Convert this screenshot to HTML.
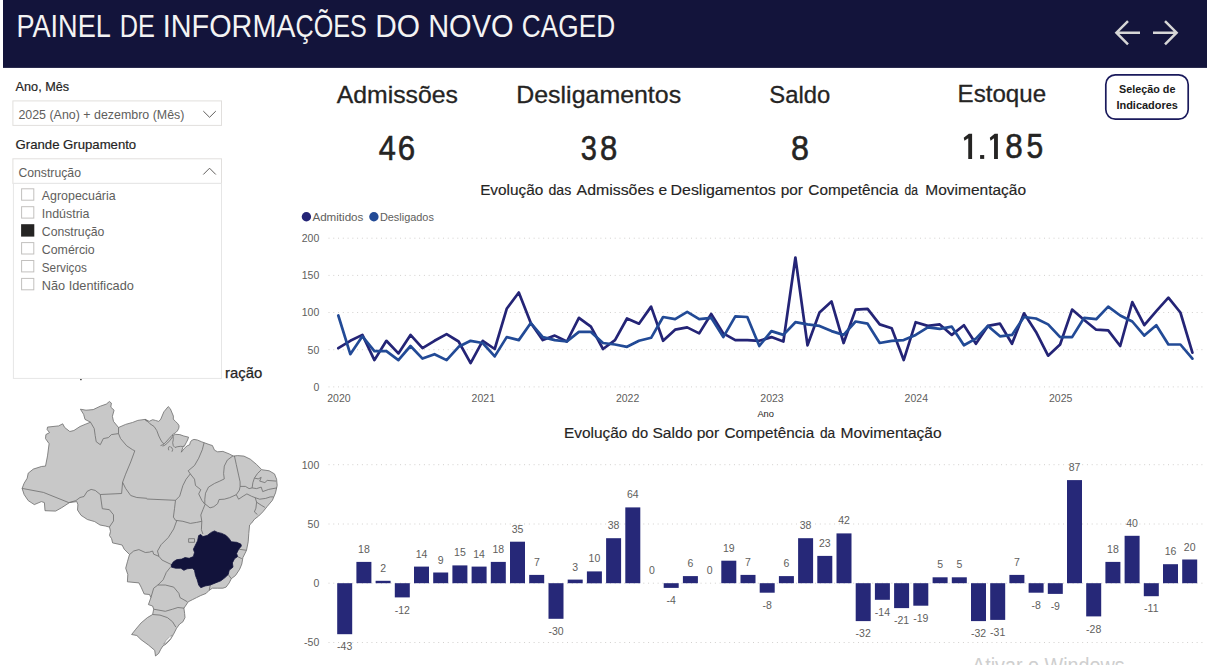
<!DOCTYPE html>
<html lang="pt-BR"><head><meta charset="utf-8"><title>Painel de Informações do Novo CAGED</title>
<style>
html,body{margin:0;padding:0;background:#fff;}
body{width:1207px;height:665px;overflow:hidden;font-family:"Liberation Sans",sans-serif;}
svg{display:block;font-family:"Liberation Sans",sans-serif;}
</style></head><body>
<svg width="1207" height="665" viewBox="0 0 1207 665">
<rect x="3" y="0" width="1204" height="67.9" fill="#13143b"/>
<text transform="matrix(0.8695 0 0 1.0000 16.43 37.20)" font-size="31.2" fill="#f3f3f3">PAINEL</text>
<text transform="matrix(0.8101 0 0 1.0000 119.67 37.20)" font-size="31.2" fill="#f3f3f3">DE</text>
<text transform="matrix(0.9229 0 0 1.0000 162.83 37.20)" font-size="31.2" fill="#f3f3f3">INFORMA</text>
<text transform="matrix(0.8070 0 0 1.0000 295.59 37.20)" font-size="31.2" fill="#f3f3f3">ÇÕES</text>
<text transform="matrix(0.9591 0 0 1.0000 375.20 37.20)" font-size="31.2" fill="#f3f3f3">DO</text>
<text transform="matrix(0.9299 0 0 1.0000 428.18 37.20)" font-size="31.2" fill="#f3f3f3">NOVO</text>
<text transform="matrix(0.8426 0 0 1.0000 521.84 37.20)" font-size="31.2" fill="#f3f3f3">CAGED</text>
<g fill="none" stroke="#d6d6d6" stroke-width="2.5" stroke-linecap="butt" stroke-linejoin="miter"><path d="M1140,32.7 H1116.4 M1128,21.1 L1116.4,32.7 L1128,44.3"/><path d="M1153,32.7 H1176.6 M1165,21.1 L1176.6,32.7 L1165,44.3"/></g>
<rect x="1105.8" y="74.9" width="82.4" height="44.2" rx="9.5" ry="9.5" fill="#fff" stroke="#1a1a5c" stroke-width="1.7"/>
<text x="1147.2" y="93" font-size="10.5" fill="#1a1a1a" text-anchor="middle" font-weight="700" textLength="56.4" lengthAdjust="spacingAndGlyphs">Seleção de</text>
<text x="1147.2" y="108.5" font-size="10.5" fill="#1a1a1a" text-anchor="middle" font-weight="700" textLength="61.5" lengthAdjust="spacingAndGlyphs">Indicadores</text>
<text transform="matrix(1.0456 0 0 1.0000 336.80 102.70)" font-size="23.7" fill="#252423" stroke="#252423" stroke-width="0.3">Admissões</text>
<text transform="matrix(0.8767 0 0 1.0020 378.66 159.60)" font-size="35" fill="#252423" stroke="#252423" stroke-width="0.6">4</text>
<text transform="matrix(0.8955 0 0 1.0020 397.86 159.60)" font-size="35" fill="#252423" stroke="#252423" stroke-width="0.6">6</text>
<text transform="matrix(1.0522 0 0 1.0000 516.26 102.70)" font-size="23.7" fill="#252423" stroke="#252423" stroke-width="0.3">Desligamentos</text>
<text transform="matrix(0.8290 0 0 1.0020 580.87 159.60)" font-size="35" fill="#252423" stroke="#252423" stroke-width="0.6">3</text>
<text transform="matrix(0.8882 0 0 1.0020 599.89 159.60)" font-size="35" fill="#252423" stroke="#252423" stroke-width="0.6">8</text>
<text transform="matrix(1.0060 0 0 1.0000 769.29 102.70)" font-size="23.7" fill="#252423" stroke="#252423" stroke-width="0.3">Saldo</text>
<text transform="matrix(0.9235 0 0 1.0020 791.05 159.60)" font-size="35" fill="#252423" stroke="#252423" stroke-width="0.6">8</text>
<text transform="matrix(1.0172 0 0 1.0000 957.62 101.70)" font-size="23.7" fill="#252423" stroke="#252423" stroke-width="0.3">Estoque</text>
<path d="M968.85,133.80 L972.10,133.80 L972.10,158.90 L968.25,158.90 L968.25,138.20 L964.45,140.65 L963.70,137.70Z" fill="#252423"/>
<rect x="980.1" y="155.05" width="4.10" height="3.85" fill="#252423"/>
<path d="M994.65,133.80 L997.90,133.80 L997.90,158.90 L994.05,158.90 L994.05,138.20 L990.55,140.65 L989.80,137.70Z" fill="#252423"/>
<text transform="matrix(0.9000 0 0 0.9941 1005.17 158.40)" font-size="35" fill="#252423" stroke="#252423" stroke-width="0.6">8</text>
<text transform="matrix(0.8580 0 0 0.9941 1026.44 158.40)" font-size="35" fill="#252423" stroke="#252423" stroke-width="0.6">5</text>
<text x="15.6" y="91.2" font-size="12.2" fill="#252423" textLength="53.5" lengthAdjust="spacingAndGlyphs" stroke="#252423" stroke-width="0.18">Ano, Mês</text>
<rect x="12.9" y="100.9" width="208.6" height="24.5" fill="#fff" stroke="#e1dfdd" stroke-width="1"/>
<text x="18.4" y="118.8" font-size="12.3" fill="#605e5c" textLength="166" lengthAdjust="spacingAndGlyphs">2025 (Ano) + dezembro (Mês)</text>
<path d="M203.3,111.1 L209.55,117.3 L215.8,111.1" fill="none" stroke="#605e5c" stroke-width="1"/>
<text x="15.6" y="148.6" font-size="12.2" fill="#252423" textLength="120.6" lengthAdjust="spacingAndGlyphs" stroke="#252423" stroke-width="0.18">Grande Grupamento</text>
<text x="225" y="377.8" font-size="15" fill="#252423" textLength="37.2" lengthAdjust="spacingAndGlyphs" stroke="#252423" stroke-width="0.25">ração</text>
<rect x="80.2" y="378.6" width="1.4" height="1.6" fill="#252423"/>
<rect x="12.9" y="158.8" width="208.6" height="24.6" fill="#fff" stroke="#e1dfdd" stroke-width="1"/>
<rect x="13.4" y="183.4" width="208.1" height="195" fill="#fff" stroke="#e6e6e6" stroke-width="1"/>
<text x="18.4" y="176.7" font-size="12.3" fill="#605e5c" textLength="62.6" lengthAdjust="spacingAndGlyphs">Construção</text>
<path d="M203.3,174.5 L209.55,168.2 L215.8,174.5" fill="none" stroke="#605e5c" stroke-width="1"/>
<rect x="21.6" y="188.8" width="12.2" height="11.4" fill="#fff" stroke="#c2c0be" stroke-width="1"/>
<text x="41.8" y="200.3" font-size="13" fill="#605e5c" textLength="73.8" lengthAdjust="spacingAndGlyphs">Agropecuária</text>
<rect x="21.6" y="206.7" width="12.2" height="11.4" fill="#fff" stroke="#c2c0be" stroke-width="1"/>
<text x="41.8" y="218.2" font-size="13" fill="#605e5c" textLength="47.7" lengthAdjust="spacingAndGlyphs">Indústria</text>
<rect x="21.1" y="224.2" width="13.2" height="12.4" fill="#252423"/>
<text x="41.8" y="236.2" font-size="13" fill="#605e5c" textLength="62.6" lengthAdjust="spacingAndGlyphs">Construção</text>
<rect x="21.6" y="242.6" width="12.2" height="11.4" fill="#fff" stroke="#c2c0be" stroke-width="1"/>
<text x="41.8" y="254.1" font-size="13" fill="#605e5c" textLength="52.9" lengthAdjust="spacingAndGlyphs">Comércio</text>
<rect x="21.6" y="260.5" width="12.2" height="11.4" fill="#fff" stroke="#c2c0be" stroke-width="1"/>
<text x="41.8" y="272.0" font-size="13" fill="#605e5c" textLength="45" lengthAdjust="spacingAndGlyphs">Serviços</text>
<rect x="21.6" y="278.4" width="12.2" height="11.4" fill="#fff" stroke="#c2c0be" stroke-width="1"/>
<text x="41.8" y="290.0" font-size="13" fill="#605e5c" textLength="92" lengthAdjust="spacingAndGlyphs">Não Identificado</text>
<text transform="matrix(1.0174 0 0 1.0000 480.13 195.00)" font-size="15.1" fill="#252423" stroke="#252423" stroke-width="0.15">Evolução</text>
<text transform="matrix(0.9362 0 0 1.0000 548.43 195.00)" font-size="15.1" fill="#252423" stroke="#252423" stroke-width="0.15">das</text>
<text transform="matrix(1.0512 0 0 1.0000 576.60 195.00)" font-size="15.1" fill="#252423" stroke="#252423" stroke-width="0.15">Admissões</text>
<text transform="matrix(1.0345 0 0 1.0000 658.58 195.00)" font-size="15.1" fill="#252423" stroke="#252423" stroke-width="0.15">e</text>
<text transform="matrix(1.0545 0 0 1.0000 670.58 195.00)" font-size="15.1" fill="#252423" stroke="#252423" stroke-width="0.15">Desligamentos</text>
<text transform="matrix(1.0217 0 0 1.0000 780.68 195.00)" font-size="15.1" fill="#252423" stroke="#252423" stroke-width="0.15">por</text>
<text transform="matrix(1.0142 0 0 1.0000 808.34 195.00)" font-size="15.1" fill="#252423" stroke="#252423" stroke-width="0.15">Competência</text>
<text transform="matrix(0.8000 0 0 1.0000 904.50 195.00)" font-size="15.1" fill="#252423" stroke="#252423" stroke-width="0.15">da</text>
<text transform="matrix(1.0265 0 0 1.0000 925.32 195.00)" font-size="15.1" fill="#252423" stroke="#252423" stroke-width="0.15">Movimentação</text>
<circle cx="306.4" cy="216.8" r="4.7" fill="#242476"/>
<text x="312.4" y="221" font-size="11.5" fill="#605e5c" textLength="51" lengthAdjust="spacingAndGlyphs">Admitidos</text>
<circle cx="373.9" cy="216.8" r="4.7" fill="#224a96"/>
<text x="379.9" y="221" font-size="11.5" fill="#605e5c" textLength="54" lengthAdjust="spacingAndGlyphs">Desligados</text>
<line x1="328.5" y1="386.9" x2="1203" y2="386.9" stroke="#d2d0ce" stroke-width="1" stroke-dasharray="1 3.77"/>
<text x="319.3" y="390.7" font-size="10.5" fill="#605e5c" text-anchor="end">0</text>
<line x1="328.5" y1="349.7" x2="1203" y2="349.7" stroke="#d2d0ce" stroke-width="1" stroke-dasharray="1 3.77"/>
<text x="319.3" y="353.5" font-size="10.5" fill="#605e5c" text-anchor="end">50</text>
<line x1="328.5" y1="312.5" x2="1203" y2="312.5" stroke="#d2d0ce" stroke-width="1" stroke-dasharray="1 3.77"/>
<text x="319.3" y="316.3" font-size="10.5" fill="#605e5c" text-anchor="end">100</text>
<line x1="328.5" y1="275.4" x2="1203" y2="275.4" stroke="#d2d0ce" stroke-width="1" stroke-dasharray="1 3.77"/>
<text x="319.3" y="279.2" font-size="10.5" fill="#605e5c" text-anchor="end">150</text>
<line x1="328.5" y1="238.2" x2="1203" y2="238.2" stroke="#d2d0ce" stroke-width="1" stroke-dasharray="1 3.77"/>
<text x="319.3" y="242.0" font-size="10.5" fill="#605e5c" text-anchor="end">200</text>
<text x="338.9" y="401.8" font-size="10.5" fill="#605e5c" text-anchor="middle">2020</text>
<text x="483.3" y="401.8" font-size="10.5" fill="#605e5c" text-anchor="middle">2021</text>
<text x="627.6" y="401.8" font-size="10.5" fill="#605e5c" text-anchor="middle">2022</text>
<text x="772.0" y="401.8" font-size="10.5" fill="#605e5c" text-anchor="middle">2023</text>
<text x="916.3" y="401.8" font-size="10.5" fill="#605e5c" text-anchor="middle">2024</text>
<text x="1060.7" y="401.8" font-size="10.5" fill="#605e5c" text-anchor="middle">2025</text>
<text x="765.7" y="416.6" font-size="9.3" fill="#252423" text-anchor="middle">Ano</text>
<polyline points="338.3,348.2 350.3,340.8 362.4,334.9 374.4,360.1 386.4,340.8 398.4,353.4 410.5,334.9 422.5,348.2 434.5,340.8 446.6,334.1 458.6,341.5 470.6,363.1 482.7,340.8 494.7,349.0 506.7,308.8 518.8,292.5 530.8,323.0 542.8,340.1 554.8,335.6 566.9,341.5 578.9,317.8 590.9,326.7 603.0,349.0 615.0,340.1 627.0,318.5 639.0,323.7 651.1,306.6 663.1,340.8 675.1,329.7 687.2,327.4 699.2,333.4 711.2,314.0 723.3,333.4 735.3,340.1 747.3,340.1 759.3,340.8 771.4,337.1 783.4,341.5 795.4,257.5 807.5,345.3 819.5,312.5 831.5,301.4 843.6,343.0 855.6,309.6 867.6,308.8 879.7,324.4 891.7,328.2 903.7,360.1 915.7,322.2 927.8,325.9 939.8,324.4 951.8,334.9 963.9,325.2 975.9,343.8 987.9,325.9 1000.0,323.7 1012.0,343.8 1024.0,313.3 1036.0,331.9 1048.1,355.7 1060.1,344.5 1072.1,309.6 1084.2,320.0 1096.2,329.7 1108.2,330.4 1120.2,346.0 1132.3,302.1 1144.3,325.2 1156.3,311.1 1168.4,297.7 1180.4,312.5 1192.4,352.7" fill="none" stroke="#242476" stroke-width="2.7" stroke-linejoin="round" stroke-linecap="round"/>
<polyline points="338.3,315.5 350.3,354.2 362.4,336.3 374.4,351.2 386.4,351.2 398.4,360.1 410.5,346.0 422.5,358.6 434.5,354.2 446.6,360.1 458.6,346.8 470.6,340.8 482.7,343.0 494.7,356.4 506.7,337.1 518.8,340.1 530.8,323.0 542.8,337.1 554.8,340.1 566.9,341.5 578.9,331.9 590.9,331.9 603.0,343.0 615.0,344.5 627.0,346.8 639.0,340.8 651.1,337.8 663.1,317.0 675.1,319.2 687.2,311.8 699.2,319.2 711.2,317.8 723.3,337.1 735.3,316.3 747.3,317.0 759.3,346.0 771.4,331.1 783.4,334.9 795.4,322.2 807.5,324.4 819.5,325.9 831.5,331.1 843.6,334.9 855.6,321.5 867.6,323.7 879.7,343.0 891.7,340.8 903.7,340.1 915.7,334.9 927.8,327.4 939.8,328.9 951.8,326.7 963.9,345.3 975.9,338.6 987.9,325.9 1000.0,336.3 1012.0,334.9 1024.0,317.0 1036.0,318.5 1048.1,324.4 1060.1,337.1 1072.1,337.1 1084.2,317.8 1096.2,319.2 1108.2,306.6 1120.2,315.5 1132.3,321.5 1144.3,335.6 1156.3,325.2 1168.4,344.5 1180.4,344.5 1192.4,358.6" fill="none" stroke="#224a96" stroke-width="2.7" stroke-linejoin="round" stroke-linecap="round"/>
<text transform="matrix(1.0224 0 0 1.0000 563.92 438.00)" font-size="15.1" fill="#252423" stroke="#252423" stroke-width="0.15">Evolução</text>
<text transform="matrix(0.9714 0 0 1.0000 631.81 438.00)" font-size="15.1" fill="#252423" stroke="#252423" stroke-width="0.15">do</text>
<text transform="matrix(1.0336 0 0 1.0000 652.42 438.00)" font-size="15.1" fill="#252423" stroke="#252423" stroke-width="0.15">Saldo</text>
<text transform="matrix(1.0361 0 0 1.0000 696.66 438.00)" font-size="15.1" fill="#252423" stroke="#252423" stroke-width="0.15">por</text>
<text transform="matrix(1.0096 0 0 1.0000 724.44 438.00)" font-size="15.1" fill="#252423" stroke="#252423" stroke-width="0.15">Competência</text>
<text transform="matrix(0.9108 0 0 1.0000 819.94 438.00)" font-size="15.1" fill="#252423" stroke="#252423" stroke-width="0.15">da</text>
<text transform="matrix(1.0327 0 0 1.0000 840.41 438.00)" font-size="15.1" fill="#252423" stroke="#252423" stroke-width="0.15">Movimentação</text>
<line x1="328.5" y1="642.5" x2="1203" y2="642.5" stroke="#d2d0ce" stroke-width="1" stroke-dasharray="1 3.77"/>
<text x="319.3" y="646.2" font-size="10.5" fill="#605e5c" text-anchor="end">-50</text>
<line x1="328.5" y1="583.2" x2="1203" y2="583.2" stroke="#d2d0ce" stroke-width="1" stroke-dasharray="1 3.77"/>
<text x="319.3" y="587.0" font-size="10.5" fill="#605e5c" text-anchor="end">0</text>
<line x1="328.5" y1="524.0" x2="1203" y2="524.0" stroke="#d2d0ce" stroke-width="1" stroke-dasharray="1 3.77"/>
<text x="319.3" y="527.8" font-size="10.5" fill="#605e5c" text-anchor="end">50</text>
<line x1="328.5" y1="464.7" x2="1203" y2="464.7" stroke="#d2d0ce" stroke-width="1" stroke-dasharray="1 3.77"/>
<text x="319.3" y="468.5" font-size="10.5" fill="#605e5c" text-anchor="end">100</text>
<rect x="337.2" y="583.2" width="15" height="51.0" fill="#262878"/>
<text x="344.7" y="650.4" font-size="10.5" fill="#605e5c" text-anchor="middle">-43</text>
<rect x="356.4" y="561.9" width="15" height="21.3" fill="#262878"/>
<text x="363.9" y="552.9" font-size="10.5" fill="#605e5c" text-anchor="middle">18</text>
<rect x="375.6" y="580.8" width="15" height="2.4" fill="#262878"/>
<text x="383.1" y="571.8" font-size="10.5" fill="#605e5c" text-anchor="middle">2</text>
<rect x="394.8" y="583.2" width="15" height="14.2" fill="#262878"/>
<text x="402.3" y="613.6" font-size="10.5" fill="#605e5c" text-anchor="middle">-12</text>
<rect x="414.0" y="566.6" width="15" height="16.6" fill="#262878"/>
<text x="421.5" y="557.6" font-size="10.5" fill="#605e5c" text-anchor="middle">14</text>
<rect x="433.2" y="572.5" width="15" height="10.7" fill="#262878"/>
<text x="440.7" y="563.5" font-size="10.5" fill="#605e5c" text-anchor="middle">9</text>
<rect x="452.4" y="565.4" width="15" height="17.8" fill="#262878"/>
<text x="459.9" y="556.4" font-size="10.5" fill="#605e5c" text-anchor="middle">15</text>
<rect x="471.6" y="566.6" width="15" height="16.6" fill="#262878"/>
<text x="479.1" y="557.6" font-size="10.5" fill="#605e5c" text-anchor="middle">14</text>
<rect x="490.8" y="561.9" width="15" height="21.3" fill="#262878"/>
<text x="498.3" y="552.9" font-size="10.5" fill="#605e5c" text-anchor="middle">18</text>
<rect x="510.0" y="541.7" width="15" height="41.5" fill="#262878"/>
<text x="517.5" y="532.7" font-size="10.5" fill="#605e5c" text-anchor="middle">35</text>
<rect x="529.2" y="574.9" width="15" height="8.3" fill="#262878"/>
<text x="536.8" y="565.9" font-size="10.5" fill="#605e5c" text-anchor="middle">7</text>
<rect x="548.5" y="583.2" width="15" height="35.6" fill="#262878"/>
<text x="556.0" y="635.0" font-size="10.5" fill="#605e5c" text-anchor="middle">-30</text>
<rect x="567.7" y="579.6" width="15" height="3.6" fill="#262878"/>
<text x="575.2" y="570.6" font-size="10.5" fill="#605e5c" text-anchor="middle">3</text>
<rect x="586.9" y="571.4" width="15" height="11.9" fill="#262878"/>
<text x="594.4" y="562.4" font-size="10.5" fill="#605e5c" text-anchor="middle">10</text>
<rect x="606.1" y="538.2" width="15" height="45.0" fill="#262878"/>
<text x="613.6" y="529.2" font-size="10.5" fill="#605e5c" text-anchor="middle">38</text>
<rect x="625.3" y="507.4" width="15" height="75.8" fill="#262878"/>
<text x="632.8" y="498.4" font-size="10.5" fill="#605e5c" text-anchor="middle">64</text>
<text x="652.0" y="574.2" font-size="10.5" fill="#605e5c" text-anchor="middle">0</text>
<rect x="663.7" y="583.2" width="15" height="4.7" fill="#262878"/>
<text x="671.2" y="604.1" font-size="10.5" fill="#605e5c" text-anchor="middle">-4</text>
<rect x="682.9" y="576.1" width="15" height="7.1" fill="#262878"/>
<text x="690.4" y="567.1" font-size="10.5" fill="#605e5c" text-anchor="middle">6</text>
<text x="709.6" y="574.2" font-size="10.5" fill="#605e5c" text-anchor="middle">0</text>
<rect x="721.3" y="560.7" width="15" height="22.5" fill="#262878"/>
<text x="728.8" y="551.7" font-size="10.5" fill="#605e5c" text-anchor="middle">19</text>
<rect x="740.5" y="574.9" width="15" height="8.3" fill="#262878"/>
<text x="748.0" y="565.9" font-size="10.5" fill="#605e5c" text-anchor="middle">7</text>
<rect x="759.7" y="583.2" width="15" height="9.5" fill="#262878"/>
<text x="767.2" y="608.9" font-size="10.5" fill="#605e5c" text-anchor="middle">-8</text>
<rect x="778.9" y="576.1" width="15" height="7.1" fill="#262878"/>
<text x="786.4" y="567.1" font-size="10.5" fill="#605e5c" text-anchor="middle">6</text>
<rect x="798.1" y="538.2" width="15" height="45.0" fill="#262878"/>
<text x="805.6" y="529.2" font-size="10.5" fill="#605e5c" text-anchor="middle">38</text>
<rect x="817.3" y="555.9" width="15" height="27.3" fill="#262878"/>
<text x="824.8" y="546.9" font-size="10.5" fill="#605e5c" text-anchor="middle">23</text>
<rect x="836.5" y="533.4" width="15" height="49.8" fill="#262878"/>
<text x="844.0" y="524.4" font-size="10.5" fill="#605e5c" text-anchor="middle">42</text>
<rect x="855.7" y="583.2" width="15" height="37.9" fill="#262878"/>
<text x="863.2" y="637.3" font-size="10.5" fill="#605e5c" text-anchor="middle">-32</text>
<rect x="874.9" y="583.2" width="15" height="16.6" fill="#262878"/>
<text x="882.4" y="616.0" font-size="10.5" fill="#605e5c" text-anchor="middle">-14</text>
<rect x="894.1" y="583.2" width="15" height="24.9" fill="#262878"/>
<text x="901.6" y="624.3" font-size="10.5" fill="#605e5c" text-anchor="middle">-21</text>
<rect x="913.3" y="583.2" width="15" height="22.5" fill="#262878"/>
<text x="920.8" y="621.9" font-size="10.5" fill="#605e5c" text-anchor="middle">-19</text>
<rect x="932.6" y="577.3" width="15" height="5.9" fill="#262878"/>
<text x="940.1" y="568.3" font-size="10.5" fill="#605e5c" text-anchor="middle">5</text>
<rect x="951.8" y="577.3" width="15" height="5.9" fill="#262878"/>
<text x="959.3" y="568.3" font-size="10.5" fill="#605e5c" text-anchor="middle">5</text>
<rect x="971.0" y="583.2" width="15" height="37.9" fill="#262878"/>
<text x="978.5" y="637.3" font-size="10.5" fill="#605e5c" text-anchor="middle">-32</text>
<rect x="990.2" y="583.2" width="15" height="36.7" fill="#262878"/>
<text x="997.7" y="636.1" font-size="10.5" fill="#605e5c" text-anchor="middle">-31</text>
<rect x="1009.4" y="574.9" width="15" height="8.3" fill="#262878"/>
<text x="1016.9" y="565.9" font-size="10.5" fill="#605e5c" text-anchor="middle">7</text>
<rect x="1028.6" y="583.2" width="15" height="9.5" fill="#262878"/>
<text x="1036.1" y="608.9" font-size="10.5" fill="#605e5c" text-anchor="middle">-8</text>
<rect x="1047.8" y="583.2" width="15" height="10.7" fill="#262878"/>
<text x="1055.3" y="610.1" font-size="10.5" fill="#605e5c" text-anchor="middle">-9</text>
<rect x="1067.0" y="480.1" width="15" height="103.1" fill="#262878"/>
<text x="1074.5" y="471.1" font-size="10.5" fill="#605e5c" text-anchor="middle">87</text>
<rect x="1086.2" y="583.2" width="15" height="33.2" fill="#262878"/>
<text x="1093.7" y="632.6" font-size="10.5" fill="#605e5c" text-anchor="middle">-28</text>
<rect x="1105.4" y="561.9" width="15" height="21.3" fill="#262878"/>
<text x="1112.9" y="552.9" font-size="10.5" fill="#605e5c" text-anchor="middle">18</text>
<rect x="1124.6" y="535.8" width="15" height="47.4" fill="#262878"/>
<text x="1132.1" y="526.8" font-size="10.5" fill="#605e5c" text-anchor="middle">40</text>
<rect x="1143.8" y="583.2" width="15" height="13.0" fill="#262878"/>
<text x="1151.3" y="612.4" font-size="10.5" fill="#605e5c" text-anchor="middle">-11</text>
<rect x="1163.0" y="564.2" width="15" height="19.0" fill="#262878"/>
<text x="1170.5" y="555.2" font-size="10.5" fill="#605e5c" text-anchor="middle">16</text>
<rect x="1182.2" y="559.5" width="15" height="23.7" fill="#262878"/>
<text x="1189.7" y="550.5" font-size="10.5" fill="#605e5c" text-anchor="middle">20</text>
<path d="M22.1,488.4 L24.1,483.3 L27.2,478.2 L28.2,473.2 L33.3,469.1 L41.4,466.5 L45.5,466.1 L47.5,455.9 L49.1,443.7 L45.5,438.6 L45.9,434.6 L49.5,432.6 L47.1,429.5 L47.5,427.1 L58.6,425.9 L62.7,423.8 L64.7,427.5 L69.8,431.5 L73.9,430.5 L80.0,426.5 L85.0,424.4 L90.5,422.2 L85.0,419.4 L83.6,414.3 L80.4,409.2 L86.0,410.2 L93.2,409.6 L100.3,406.2 L106.3,404.1 L109.4,401.5 L111.4,403.1 L110.8,407.2 L114.1,410.2 L112.4,416.3 L113.5,421.4 L118.5,427.5 L125.6,424.4 L132.7,422.4 L137.8,420.4 L144.9,419.4 L146.9,421.4 L145.0,419.2 L149.2,421.3 L152.7,419.7 L155.4,420.4 L158.8,421.4 L160.8,419.1 L162.5,415.0 L163.9,411.8 L168.2,406.6 L170.3,408.7 L173.4,416.1 L173.3,419.1 L175.4,421.4 L177.7,423.5 L179.1,425.8 L178.8,428.2 L177.4,430.9 L175.7,432.6 L173.7,433.9 L172.0,435.3 L173.3,435.2 L175.7,434.3 L179.8,434.6 L183.8,436.0 L188.6,437.2 L187.6,440.0 L186.2,442.7 L184.5,445.8 L182.8,447.5 L181.3,452.2 L184.2,448.5 L187.2,445.8 L189.6,444.8 L190.4,442.1 L191.6,440.4 L194.0,439.4 L197.4,440.0 L201.4,441.7 L204.1,442.7 L210.0,444.8 L212.4,445.5 L214.5,450.2 L217.6,451.8 L222.9,451.4 L229.2,453.9 L233.4,456.1 L237.6,455.6 L243.9,456.1 L250.3,459.2 L256.6,464.5 L261.8,469.7 L269.2,470.8 L274.5,473.9 L276.6,479.2 L277.2,485.5 L275.5,492.9 L272.4,500.3 L267.1,506.6 L262.9,511.8 L258.7,516.0 L254.5,519.2 L251.3,523.4 L249.6,525.0 L248.8,533.4 L248.2,541.8 L246.5,550.3 L242.9,557.6 L241.8,564.0 L239.7,569.2 L235.5,575.5 L231.3,578.7 L229.2,582.9 L226.1,587.1 L222.9,588.2 L217.6,588.2 L212.4,588.2 L209.2,590.3 L206.1,593.4 L200.8,595.5 L196.6,597.6 L192.4,599.7 L188.2,601.8 L186.1,605.0 L183.9,608.2 L184.6,613.4 L185.0,617.6 L182.9,621.8 L179.7,624.0 L176.6,628.2 L173.4,634.5 L170.3,639.7 L166.1,644.0 L162.9,646.0 L160.8,649.2 L158.7,653.4 L155.5,656.0 L154.7,650.3 L148.4,645.0 L141.1,639.7 L136.8,635.5 L131.6,634.5 L135.8,629.2 L141.1,622.9 L147.4,617.6 L152.6,614.5 L153.7,609.2 L152.6,606.0 L148.4,604.6 L150.9,597.6 L149.5,594.5 L144.2,594.0 L141.1,587.1 L138.9,582.9 L127.4,581.8 L127.8,574.5 L125.7,568.2 L127.4,561.8 L129.5,554.5 L124.2,549.2 L122.1,545.0 L112.6,542.9 L111.6,538.7 L109.5,535.5 L110.5,531.3 L109.5,527.1 L105.3,526.0 L100.0,525.0 L94.7,521.6 L87.4,519.5 L81.0,515.3 L77.5,510.0 L77.9,504.7 L76.8,501.6 L69.5,502.6 L61.7,507.7 L55.6,511.1 L45.0,510.7 L44.4,502.6 L41.4,501.6 L34.3,504.6 L28.2,500.6 L24.1,494.5Z" fill="#c8c8c8" stroke="#6c6c6c" stroke-width="0.8" stroke-linejoin="round"/>
<g fill="none" stroke="#6c6c6c" stroke-width="0.8" stroke-linejoin="round">
<path d="M90.5,422.2 L94.2,428.5 L95.2,435.6 L96.2,441.7 L100.3,444.7 L103.3,438.6 L108.4,437.6 L111.4,434.6 L118.5,433.6"/>
<path d="M118.5,427.5 L118.5,433.6 L120.6,438.6 L126.7,445.8 L132.7,449.8 L134.8,450.8 L130.7,462.0 L125.6,474.2 L122.6,482.3"/>
<path d="M122.6,482.3 L121.6,493.5 L100.3,494.5"/>
<path d="M100.3,494.5 L95.2,490.4 L91.1,489.4 L87.1,491.4 L84.0,496.5 L80.0,497.5 L75.9,500.6 L68.8,502.6"/>
<path d="M22.1,488.4 L43.4,492.4 L68.8,502.6"/>
<path d="M100.3,494.5 L102.3,508.7 L109.4,509.7 L113.5,514.8 L113.5,520.9 L109.4,527.0"/>
<path d="M122.6,482.3 L125.6,488.4 L130.7,495.5 L136.8,497.5 L146.9,498.3"/>
<path d="M146.1,419.8 L150.0,423.8 L154.1,426.5 L156.8,430.6 L158.8,436.0 L160.8,440.0 L162.5,442.7 L164.2,443.8"/>
<path d="M172.0,435.3 L168.9,438.7 L165.9,442.1 L163.2,444.6 L160.5,445.6"/>
<path d="M172.7,436.5 L170.3,440.0 L167.6,442.9 L164.6,445.4 L162.5,446.1"/>
<path d="M173.0,435.3 L173.3,439.4 L172.7,442.7 L173.3,445.8 L175.0,447.5 L177.1,446.8 L180.4,446.3 L182.8,446.5 L184.5,445.8"/>
<path d="M169.6,446.1 L168.3,448.1 L168.8,450.3"/>
<path d="M170.3,446.8 L171.5,447.3 L172.7,449.5 L172.0,451.7"/>
<path d="M204.1,442.7 L202.3,449.7 L198.7,458.2 L194.5,465.5 L188.2,470.8 L190.3,473.9 L186.1,479.2 L182.9,485.5 L179.7,496.1 L175.5,500.3 L174.5,508.7 L173.4,517.1 L175.5,520.3"/>
<path d="M146.7,499.0 L175.5,500.3"/>
<path d="M175.5,520.3 L182.9,521.3 L190.3,523.4 L196.6,522.4 L201.8,521.3"/>
<path d="M190.3,473.9 L194.5,479.2 L195.5,485.5 L200.8,489.7 L198.7,493.9 L201.8,500.3 L205.0,504.5 L202.9,509.7 L200.8,515.0 L201.8,521.3 L201.4,529.7 L202.9,534.0"/>
<path d="M233.3,455.6 L227.3,460.1 L224.3,466.1 L223.6,473.6 L224.3,478.9 L219.8,481.1 L214.6,483.4 L208.5,487.1 L205.5,493.2 L204.8,499.2 L204.8,503.7"/>
<path d="M234.4,455.9 L236.3,464.6 L238.6,475.1 L240.1,481.9 L240.1,486.4 L239.4,490.1 L236.3,494.7 L229.6,497.7 L224.3,499.2 L219.1,499.5 L217.6,503.7 L213.8,506.7 L210.0,507.9 L204.8,503.7"/>
<path d="M236.3,494.7 L238.6,499.2 L243.1,496.2 L246.9,493.9 L251.4,496.2 L255.2,497.7 L256.6,502.2 L261.2,505.2 L264.9,507.4"/>
<path d="M240.1,486.4 L245.4,486.4 L249.1,488.6 L252.1,487.9"/>
<path d="M261.2,469.9 L257.4,473.6 L254.4,478.1 L252.9,482.6 L252.1,487.9"/>
<path d="M254.4,478.1 L258.2,478.9 L261.2,477.4 L259.7,481.1 L264.9,482.6 L267.2,480.4 L276.2,481.1"/>
<path d="M252.1,487.9 L256.6,488.6 L261.2,487.1 L262.7,491.6 L268.7,489.4 L276.9,487.9"/>
<path d="M255.2,497.7 L259.7,499.2 L265.7,498.4 L270.2,496.9 L273.5,496.9"/>
<path d="M256.6,502.2 L255.9,508.2 L254.4,511.9 L257.4,514.5"/>
<path d="M176.8,520.5 L173.7,529.0 L168.4,537.4 L161.1,544.7 L157.5,551.0 L158.9,556.3"/>
<path d="M129.5,554.6 L133.7,551.0 L138.9,549.6 L145.3,552.5 L149.5,552.1 L152.6,551.0 L153.7,554.2 L158.9,556.3 L162.1,560.1 L171.6,564.7"/>
<path d="M170.5,567.1 L166.3,572.4 L163.2,579.7 L157.9,585.0 L153.7,588.2 L150.9,597.6"/>
<path d="M157.9,585.0 L165.3,585.0 L173.7,587.1 L178.9,593.4 L180.0,597.6 L187.4,601.8"/>
<path d="M153.7,609.2 L165.3,611.3 L172.6,609.2 L177.9,607.5 L184.2,608.2"/>
<path d="M152.6,614.5 L160.0,615.1 L167.4,617.6 L172.6,621.8 L175.8,627.1"/>
<path d="M238.7,549.2 L246.5,550.3"/>
<path d="M237.6,556.6 L241.8,558.7"/>
<path d="M228.2,574.5 L231.3,578.7"/>
<path d="M210.3,585.0 L209.2,590.3"/>
<path d="M188.6,538.7 L194.5,538.7 L194.5,542.3 L188.6,542.3 L188.6,538.7"/>
</g>
<path d="M163.5,644.2 L166.1,640.4 L169.8,636.6 L172.4,634.9 L170.7,638.3 L167.1,642.0Z" fill="#fff" stroke="#7d7d7d" stroke-width="0.5"/>
<path d="M171.3,565.0 L173.4,561.8 L176.6,559.7 L181.8,559.1 L185.0,557.6 L189.2,558.3 L193.4,556.6 L194.5,552.4 L193.4,549.2 L195.5,545.0 L197.6,540.8 L198.7,535.5 L200.8,534.5 L202.9,536.6 L207.1,535.5 L211.3,532.4 L214.5,530.9 L217.6,532.4 L221.8,533.4 L226.1,535.5 L229.2,538.7 L231.3,541.8 L236.6,542.3 L240.8,544.0 L241.4,546.0 L238.7,549.2 L236.6,553.4 L237.6,556.6 L234.5,558.7 L232.4,562.9 L233.0,567.1 L229.2,570.3 L228.2,574.5 L225.0,577.6 L220.8,580.8 L215.5,582.9 L210.3,585.0 L205.0,586.0 L200.8,587.7 L198.7,585.0 L197.2,579.7 L195.5,575.5 L194.5,570.3 L192.4,568.2 L187.1,568.8 L183.9,570.3 L180.8,568.2 L175.5,568.2 L171.3,567.1Z" fill="#12133b" stroke="#12133b" stroke-width="0.8" stroke-linejoin="round"/>
<text x="972" y="673.3" font-size="21.4" fill="#cfcfcf" textLength="152.7" lengthAdjust="spacingAndGlyphs">Ativar o Windows</text>
</svg>
</body></html>
